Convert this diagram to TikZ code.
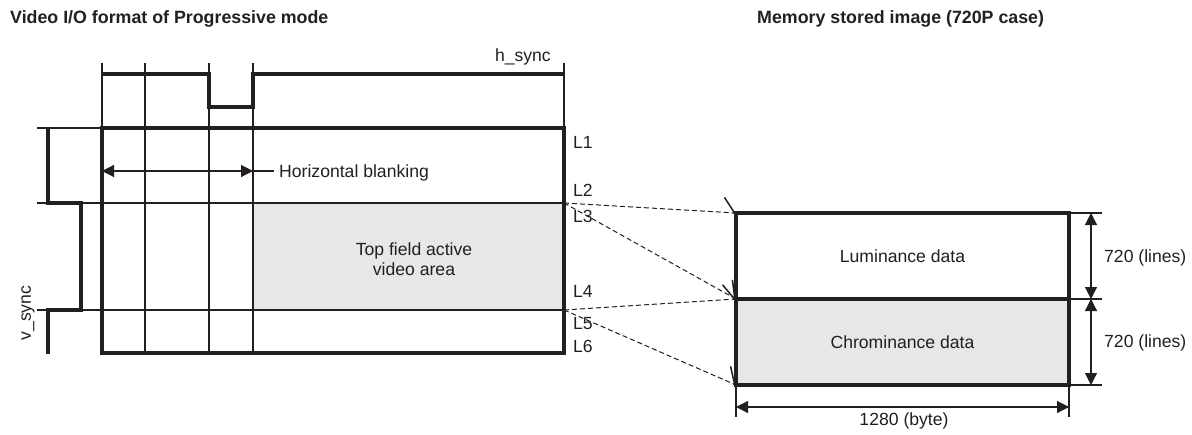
\documentclass[tikz,border=0pt]{standalone}
\usepackage{fontspec}
\setmainfont{Liberation Sans}
\usetikzlibrary{arrows.meta,positioning}

\definecolor{ink}{RGB}{35,31,32}
\definecolor{areagray}{RGB}{230,231,232}

\begin{document}
\begin{tikzpicture}[x=1pt, y=-1pt,
    thinline/.style={draw=ink, line width=1.2pt},
    thickline/.style={draw=ink, line width=3.1pt},
    pulse/.style={draw=ink, line width=3.2pt},
    dimarrow/.style={draw=ink, line width=1.2pt, {Triangle[length=12pt,width=12pt]}-{Triangle[length=12pt,width=12pt]}},
    maparrow/.style={draw=ink, line width=1pt, dash pattern=on 5pt off 3pt, -{Straight Barb[left,length=11pt,width=30pt,line width=1.5pt]}},
    lbl/.style={text=ink, inner sep=0pt, font=\fontsize{17.6}{20}\selectfont},
    ttl/.style={lbl, font=\fontsize{17.8}{20}\selectfont\bfseries},
    memblock/.style={lbl, draw=ink, line width=3.1pt, outer sep=0pt, minimum width=333pt, minimum height=86pt}]
    \useasboundingbox (0,0) rectangle (1192,434);

    \node[ttl, anchor=base west] (T1) at (10,23) {Video I/O format of Progressive mode};
    \node[ttl, anchor=base west] (T2) at (757,23) {Memory stored image (720P case)};

    % field frame
    \coordinate (A) at (102,128);
    \coordinate (B) at (564,128);
    \coordinate (C) at (564,353);
    \coordinate (D) at (102,353);
    \coordinate (E) at (564,203);
    \coordinate (F) at (564,310);
    \fill[areagray] (253,203) rectangle (F);

    \foreach \x in {145,209,253} \draw[thinline] (\x,63) -- (\x,353);
    \draw[thinline] (102,63) -- (A);
    \draw[thinline] (564,63) -- (B);
    \draw[thinline] (37,128) -- (A);
    \draw[thinline] (37,203) -- (E);
    \draw[thinline] (37,310) -- (F);
    \draw[thickline] (A) -- (B) -- (C) -- (D) -- cycle;

    % sync pulses
    \draw[pulse] (102,74) -- (209,74) -- (209,107) -- (253,107) -- (253,74) -- (564,74);
    \draw[pulse] (48,128) -- (48,203) -- (81,203) -- (81,310) -- (48,310) -- (48,354);
    \node[lbl, anchor=base east] (hs) at (551,61) {h\_sync};
    \node[lbl, rotate=90] (vs) at (28,313) {v\_sync};

    \coordinate (H1) at (102,171);
    \coordinate (H2) at (253,171);
    \node[lbl, anchor=base west] (hb) at (279,177) {Horizontal blanking};
    \draw[dimarrow] (H1) -- (H2);
    \draw[thinline] (H2) -- ([xshift=-5pt]hb.west |- H2);

    \node[lbl, align=center] (act) at (414,259) {Top field active\\video area};

    \node[lbl, anchor=base west] (L1) at (573,148) {L1};
    \node[lbl, anchor=base west] (L2) at (573,196) {L2};
    \node[lbl, anchor=base west] (L3) at (573,222) {L3};
    \node[lbl, anchor=base west] (L4) at (573,297) {L4};
    \node[lbl, anchor=base west] (L5) at (573,329) {L5};
    \node[lbl, anchor=base west] (L6) at (573,352) {L6};

    % memory image
    \node[memblock] (Y) at (902.5,256) {Luminance data};
    \node[memblock, fill=areagray, below=0pt of Y] (Cr) {Chrominance data};

    \draw[maparrow] (E) -- (Y.north west);
    \draw[maparrow] (E) -- (Y.south west);
    \draw[maparrow] (F) -- (Cr.north west);
    \draw[maparrow] (F) -- (Cr.south west);

    % dimensions
    \coordinate (R1) at (1102,213);
    \coordinate (R2) at (1102,299);
    \coordinate (R3) at (1102,385);
    \coordinate (V1) at (1091,213);
    \coordinate (V2) at (1091,299);
    \coordinate (V3) at (1091,385);
    \coordinate (B1) at (736,417);
    \coordinate (B2) at (1069,417);
    \coordinate (W1) at (736,407);
    \coordinate (W2) at (1069,407);
    \draw[thinline] (Y.north east) -- (R1);
    \draw[thinline] (Y.south east) -- (R2);
    \draw[thinline] (Cr.south east) -- (R3);
    \draw[thinline] (Cr.south west) -- (B1);
    \draw[thinline] (Cr.south east) -- (B2);
    \draw[dimarrow] (V1) -- (V2);
    \draw[dimarrow] (V2) -- (V3);
    \draw[dimarrow] (W1) -- (W2);
    \node[lbl, anchor=west] (n1) at (1104,258) {720 (lines)};
    \node[lbl, anchor=west] (n2) at (1104,343) {720 (lines)};
    \node[lbl] (n3) at (904,421) {1280 (byte)};
\end{tikzpicture}
\end{document}
